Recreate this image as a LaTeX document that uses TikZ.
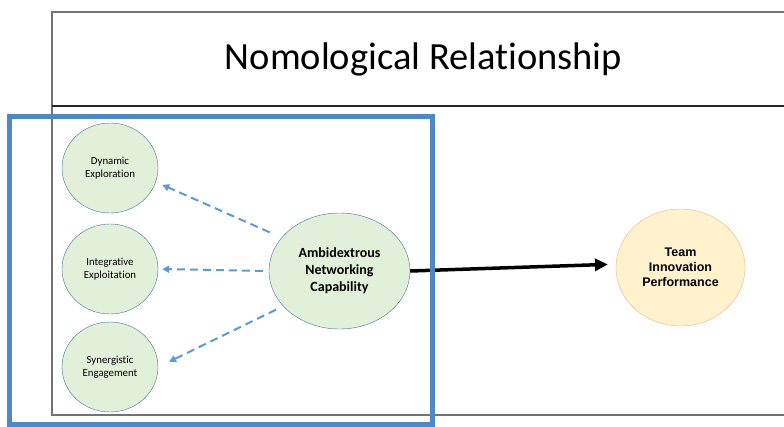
\documentclass[tikz,border=0pt]{standalone}
\usepackage{fontspec}
\setmainfont{Carlito}[Ligatures=NoCommon]
\newfontfamily\arialfont{Liberation Sans}
\usetikzlibrary{shapes.geometric,arrows.meta}
\definecolor{nodegreen}{HTML}{E2F0D9}
\definecolor{nodeline}{HTML}{41719C}
\definecolor{outcomefill}{HTML}{FFF2CC}
\definecolor{outcomeline}{HTML}{F4B183}
\definecolor{linkblue}{HTML}{5B9BD5}
\definecolor{frameblue}{HTML}{4F88C6}

\begin{document}
\begin{tikzpicture}[x=1pt,y=-1pt]

      \useasboundingbox (0,0) rectangle (784,426);

      \draw[black!55,line width=1.2pt] (784,12) -- (52,12) -- (52,415) -- (784,415);
      \draw[black!85,line width=1.2pt] (52,106) -- (784,106);
      \node[anchor=base] (title) at (423.5,69) {\fontsize{38.5}{42}\selectfont Nomological Relationship};

      \begin{scope}[every node/.style={ellipse,draw=nodeline,fill=nodegreen,inner sep=0pt,align=center}]
        \node[minimum width=96pt,minimum height=90pt,font=\fontsize{10.8}{12.5}\selectfont] (dyn)   at (110,168) {Dynamic\\Exploration};
        \node[minimum width=96pt,minimum height=90pt,font=\fontsize{10.8}{12.5}\selectfont] (integ) at (110,269) {Integrative\\Exploitation};
        \node[minimum width=96pt,minimum height=90pt,font=\fontsize{10.8}{12.5}\selectfont] (syn)   at (110,367) {Synergistic\\Engagement};
        \node[minimum width=141pt,minimum height=116pt,font=\fontsize{14}{17}\selectfont\bfseries] (amb) at (339.5,271) {Ambidextrous\\Networking\\Capability};
        \node[draw=outcomeline,fill=outcomefill,minimum width=129pt,minimum height=117pt,font=\arialfont\fontsize{12.5}{15}\selectfont\bfseries] (team) at (680.5,267.5) {Team\\Innovation\\Performance};
      \end{scope}

      \begin{scope}[every edge/.style={draw=linkblue,line width=2pt,dash pattern=on 8pt off 5pt,-{Triangle[length=7pt,width=7pt]}}]
        \path (amb.150)  edge[shorten <=13pt,shorten >=7pt] (dyn.-17);
        \path (amb.west) edge[shorten <=6pt,shorten >=4pt]  (integ.east);
        \path (amb.212)  edge[shorten <=8pt,shorten >=12pt] (syn.east);
      \end{scope}

      \draw[line width=3.5pt,-{Triangle[length=13pt,width=12pt]},shorten >=8pt] (amb.east) -- (team.177);

      \draw[frameblue,line width=5pt] (9,116) rectangle (432.5,424);

    \end{tikzpicture}
\end{document}
